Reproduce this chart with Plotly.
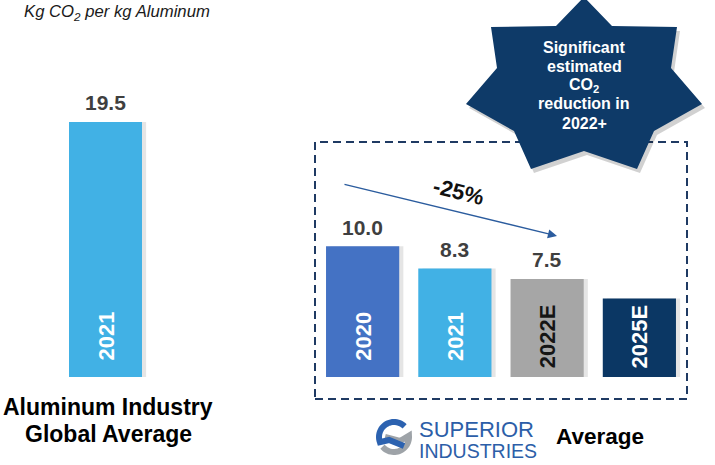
import numpy as np
import plotly.graph_objects as go

W, H = 715, 465

# ---- data -------------------------------------------------------------
industry_cat = ["2021"]
industry_val = [19.5]
industry_txt = ["19.5"]

superior_cat = ["2020", "2021", "2022E", "2025E"]
superior_val = [10.0, 8.3, 7.5, 6.0]
superior_txt = ["10.0", "8.3", "7.5", ""]

change_txt = "-25%"
unit_title = "Kg CO<sub>2</sub> per kg Aluminum"
industry_caption = ["Aluminum Industry", "Global Average"]
star_lines = ["Significant", "estimated", "CO<sub>2</sub>", "reduction in", "2022+"]

# ---- styles -----------------------------------------------------------
FONT = "Liberation Sans, Arial, Helvetica, sans-serif"
SKY = "#41B1E5"
sup_colors = ["#4472C4", SKY, "#A6A6A6", "#0B3764"]
sup_year_colors = ["white", "white", "#151515", "white"]
NAVY = "#0E3A68"
LABEL_GREY = "#3F3F3F"

# vertical scale: baseline pixel row and pixels per unit
BASE_PX = 377
PPU = 13.08
Y_RANGE = [-(H - BASE_PX) / PPU, BASE_PX / PPU]
SLOT = 92.0
BAR_W = 73 / SLOT


def px(x):
    return x / W


def py(y):
    return 1 - y / H


fig = go.Figure()

# drop shadows behind the bars
for cat, val, xa in ((industry_cat, industry_val, "x"), (superior_cat, superior_val, "x2")):
    fig.add_trace(go.Bar(
        x=cat, y=val, xaxis=xa, yaxis="y", width=BAR_W,
        offset=-BAR_W / 2 + 0.045,
        marker=dict(color="rgba(0,0,0,0.10)", line_width=0),
        hoverinfo="skip",
    ))

fig.add_trace(go.Bar(
    x=industry_cat, y=industry_val, xaxis="x", yaxis="y", width=BAR_W,
    marker=dict(color=SKY, line_width=0), hoverinfo="skip",
))
fig.add_trace(go.Bar(
    x=superior_cat, y=superior_val, xaxis="x2", yaxis="y", width=BAR_W,
    marker=dict(color=sup_colors, line_width=0), hoverinfo="skip",
))

annotations = []

# value labels above bars (category index positions on each x axis)
groups = [("x", industry_val, industry_txt), ("x2", superior_val, superior_txt)]
for xr, vals, txts in groups:
    for i, (val, txt) in enumerate(zip(vals, txts)):
        if txt:
            annotations.append(dict(
                x=i, y=val, xref=xr, yref="y", text=f"<b>{txt}</b>", showarrow=False,
                yanchor="middle", yshift=19,
                font=dict(family=FONT, size=21, color=LABEL_GREY),
            ))

# rotated year labels inside bars
year_groups = [("x", industry_cat, ["white"]), ("x2", superior_cat, sup_year_colors)]
for xr, cats, fcs in year_groups:
    for i, (cat, fc) in enumerate(zip(cats, fcs)):
        annotations.append(dict(
            x=i, y=0, xref=xr, yref="y", text=f"<b>{cat}</b>", showarrow=False,
            textangle=-90, yanchor="middle", yshift=41,
            font=dict(family=FONT, size=22, color=fc),
        ))

# unit title
annotations.append(dict(
    x=px(22), y=py(13), xref="paper", yref="paper", xanchor="left", yanchor="middle",
    text=f"<i>{unit_title}</i>", showarrow=False,
    font=dict(family=FONT, size=16.7, color="#1A1A1A"),
))

# caption under the industry bar
for line, yy in zip(industry_caption, (407, 434)):
    annotations.append(dict(
        x=px(108), y=py(yy), xref="paper", yref="paper", xanchor="center", yanchor="middle",
        text=f"<b>{line}</b>", showarrow=False,
        font=dict(family=FONT, size=23, color="#000000"),
    ))

# trend arrow and percentage
annotations.append(dict(
    x=px(557), y=py(236), xref="paper", yref="paper", text="", showarrow=True,
    ax=343 - 557, ay=184 - 236, arrowhead=2, arrowsize=1.3, arrowwidth=1.4,
    arrowcolor="#2B5C9E",
))
annotations.append(dict(
    x=px(458), y=py(191), xref="paper", yref="paper", text=f"<b>{change_txt}</b>",
    showarrow=False, textangle=14, xanchor="center", yanchor="middle",
    font=dict(family=FONT, size=22, color="#111111"),
))

# star text
for line, yy in zip(star_lines, (47, 66, 85, 104, 123)):
    annotations.append(dict(
        x=px(584), y=py(yy), xref="paper", yref="paper", text=f"<b>{line}</b>",
        showarrow=False, xanchor="center", yanchor="middle",
        font=dict(family=FONT, size=16, color="white"),
    ))

# company wordmark and label
annotations.append(dict(
    x=px(417), y=py(429), xref="paper", yref="paper", xanchor="left", yanchor="middle",
    text="SUPERIOR", showarrow=False,
    font=dict(family=FONT, size=22, color="#2C5EA8"),
))
annotations.append(dict(
    x=px(417), y=py(451), xref="paper", yref="paper", xanchor="left", yanchor="middle",
    text="INDUSTRIES", showarrow=False,
    font=dict(family=FONT, size=19.5, color="#2C5EA8"),
))
annotations.append(dict(
    x=px(600), y=py(436), xref="paper", yref="paper", xanchor="center", yanchor="middle",
    text="<b>Average</b>", showarrow=False,
    font=dict(family=FONT, size=22.5, color="#000000"),
))

# ---- decorative shapes ------------------------------------------------
shapes = []

# dashed frame around the company bars
shapes.append(dict(
    type="rect", xref="paper", yref="paper",
    x0=px(315), x1=px(687), y0=py(399), y1=py(142),
    line=dict(color="#1F3A63", width=2, dash="8px,5px"), fillcolor="rgba(0,0,0,0)",
    layer="below",
))

# seven-pointed callout star (pixel outline)
CX = 584
half = [(0, -3), (28, 26), (93, 27), (87, 68), (118, 104), (70, 131), (53, 169), (0, 151)]
outline = half + [(-dx, dy) for dx, dy in reversed(half[1:-1])]


def poly_path(pts, dx=0, dy=0):
    segs = [f"{px(CX + x + dx):.5f},{py(y + dy):.5f}" for x, y in pts]
    return "M " + " L ".join(segs) + " Z"


shapes.append(dict(type="path", xref="paper", yref="paper", path=poly_path(outline, 3, 4),
                   fillcolor="rgba(0,0,0,0.18)", line=dict(width=0)))
shapes.append(dict(type="path", xref="paper", yref="paper", path=poly_path(outline),
                   fillcolor=NAVY, line=dict(width=0)))

# logo mark: two arcs forming an "S"
LC = (394, 437)


def arc_points(a0, a1, r, n=28):
    t = np.radians(np.linspace(a0, a1, n))
    return [(LC[0] + r * np.cos(a), LC[1] - r * np.sin(a)) for a in t]


def line_path(pts):
    return "M " + " L ".join(f"{px(x):.5f},{py(y):.5f}" for x, y in pts)


blue_pts = arc_points(45, 200, 15) + [(389, 440), (404, 446)]
grey_pts = [(385, 437), (400, 441)] + arc_points(5, -140, 15)
shapes.append(dict(type="path", xref="paper", yref="paper", path=line_path(grey_pts),
                   line=dict(color="#9EA3A8", width=6)))
shapes.append(dict(type="path", xref="paper", yref="paper", path=line_path(blue_pts),
                   line=dict(color="#2C62B0", width=6)))

fig.update_layout(
    width=W, height=H,
    margin=dict(l=0, r=0, t=0, b=0),
    paper_bgcolor="white", plot_bgcolor="rgba(0,0,0,0)",
    showlegend=False, barmode="overlay",
    xaxis=dict(type="category", domain=[px(59.5), px(151.5)], range=[-0.5, 0.5],
               visible=False, anchor="y"),
    xaxis2=dict(type="category", domain=[px(316.5), px(685.5)], range=[-0.5, 3.5],
                visible=False, anchor="y"),
    yaxis=dict(domain=[0, 1], range=Y_RANGE, visible=False),
    annotations=annotations,
    shapes=shapes,
)

fig.write_html("out.html", config={"displayModeBar": False})
